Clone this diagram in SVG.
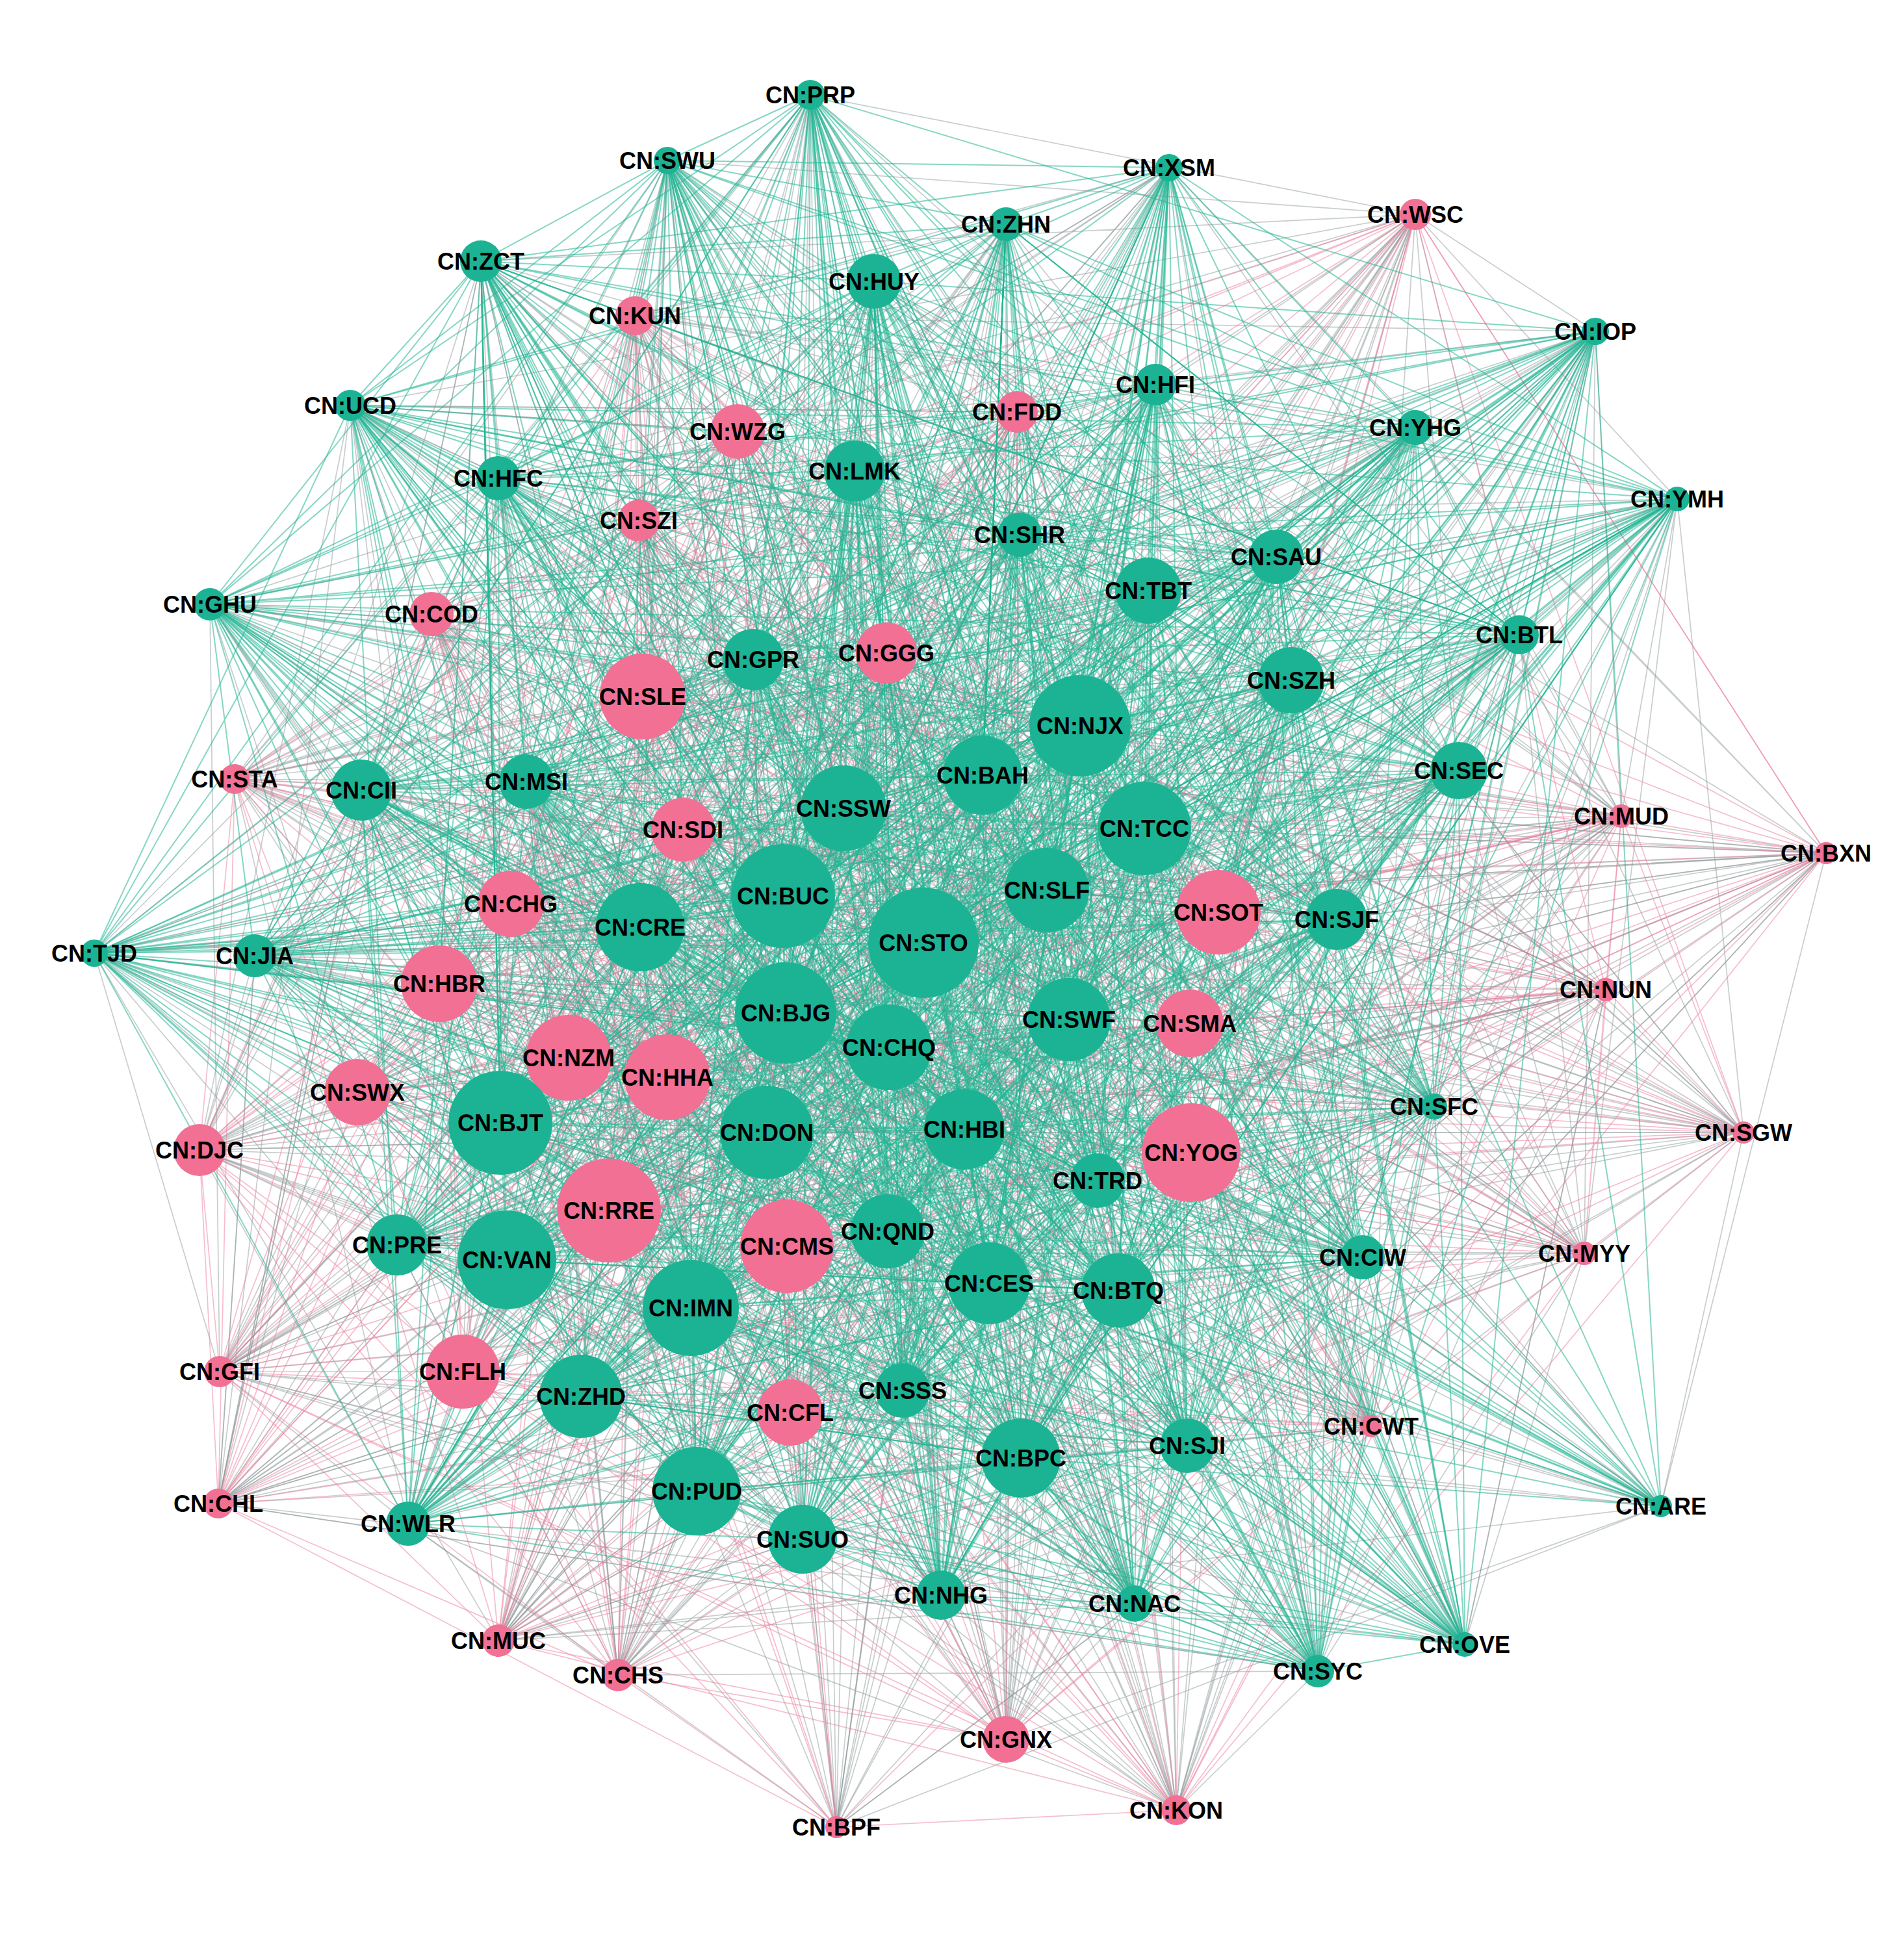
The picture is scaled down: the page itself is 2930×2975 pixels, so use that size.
<svg xmlns="http://www.w3.org/2000/svg" width="2930" height="2975" viewBox="0 0 2930 2975">
<style>
.t{stroke:#22b494;stroke-opacity:.55;stroke-width:2}
.g{stroke:#8c9699;stroke-opacity:.48;stroke-width:1.7}
.p{stroke:#ec7d9c;stroke-opacity:.5;stroke-width:1.7}
.ng{fill:#1bb394}
.np{fill:#f17094}
text{font-family:"Liberation Sans",Arial,sans-serif;font-weight:bold;font-size:36px;fill:#000;text-anchor:middle}
</style>
<rect width="2930" height="2975" fill="#fff"/>
<g id="edges" fill="none" stroke-linejoin="round" stroke-linecap="round">
<g id="edges-mixed">
<path class="g" d="M2556 2318 1287 2812 1512 1193 2810 1313 1209 1559 1216 2174 770 1728 786 1391 1571 2244 336 2314 2338 977 951 2578 1721 1986 1211 1918 1205 1379 664 945 1522 1975 2110 2195 1368 1612 307 1770 556 1216 1565 634 2097 1935 712 2111 985 1427 338 2111 1180 1743 1364 1005 323 930 1548 2677 1159 1015 676 1514 1484 1738 1027 1658 767 736 1810 2786 1778 592 977 486 1345 433 767 2525 1063 2013 2495 1256 2455 510 2438 1929 392 1471 2471 1523 1315 725 875 1628 810 1203 937 1863 1746 2468 1051 1277 1448 2455 2683 1743 1662 1117 989 1072 2254 2531 1831 1575 611 1916 1875 1404 1247 146 361 1199 1072 2295 550 1681 1366 1895 983 801 1964 857 2178 330 2245 1186 1135 664 2207 1703 1833 1774"/>
<path class="g" d="M1721 1986 1287 2812 1205 1379 2810 1313 1522 1975 1216 2174 1368 1612 786 1391 556 1216 336 2314 2097 1935 951 2578 985 1427 1211 1918 1180 1743 664 945 323 930 2110 2195 1159 1015 307 1770 1484 1738 1565 634 767 736 712 2111 1778 592 338 2111 1345 433 1364 1005 1063 2013 1548 2677 2455 510 676 1514 392 1471 1027 1658 1315 725 1810 2786 810 1203 977 486 1746 2468 767 2525 1448 2455 2495 1256 1662 1117 2438 1929 2254 2531 2471 1523 611 1916 875 1628 1247 146 937 1863 1072 2295 1051 1277 1366 1895 2683 1743 1964 857 989 1072 2245 1186 1831 1575 2207 1703 1875 1404 1569 823 361 1199 2057 1415 550 1681 1827 2225 983 801 1611 1370 2178 330 1389 2140 1135 664 1298 1244 1833 1774"/>
<path class="g" d="M985 1427 1287 2812 1180 1743 2810 1313 323 930 1216 2174 1159 1015 786 1391 1484 1738 336 2314 767 736 951 2578 1778 592 1211 1918 1345 433 664 945 1063 2013 2110 2195 2455 510 307 1770 392 1471 1565 634 1315 725 712 2111 810 1203 338 2111 1746 2468 1364 1005 1448 2455 1548 2677 1662 1117 676 1514 2254 2531 1027 1658 611 1916 1810 2786 1247 146 977 486 1072 2295 767 2525 1366 1895 2495 1256 1964 857 2438 1929 2245 1186 2471 1523 2207 1703 875 1628 1569 823 937 1863 2057 1415 1051 1277 1827 2225 2683 1743 1611 1370 989 1072 1389 2140 1831 1575 1298 1244 1875 1404 1421 1451 361 1199 1235 2369 550 1681 1645 1569 983 801 1027 247 2178 330 2028 2572 1135 664 1987 1047 1833 1774"/>
<path class="g" d="M1778 592 1287 2812 1345 433 2810 1313 1063 2013 1216 2174 2455 510 786 1391 392 1471 336 2314 1315 725 951 2578 810 1203 1211 1918 1746 2468 664 945 1448 2455 2110 2195 1662 1117 307 1770 2254 2531 1565 634 611 1916 712 2111 1247 146 338 2111 1072 2295 1364 1005 1366 1895 1548 2677 1964 857 676 1514 2245 1186 1027 1658 2207 1703 1810 2786 1569 823 977 486 2057 1415 767 2525 1827 2225 2495 1256 1611 1370 2438 1929 1389 2140 2471 1523 1298 1244 875 1628 1421 1451 937 1863 1235 2369 1051 1277 1645 1569 2683 1743 1027 247 989 1072 2028 2572 1831 1575 1987 1047 1875 1404 1767 909 361 1199 1761 1275 550 1681 145 1467 983 801 1689 1817 2178 330 539 624 1135 664 780 1939 1833 1774"/>
<path class="g" d="M810 1203 1287 2812 1746 2468 2810 1313 1448 2455 1216 2174 1662 1117 786 1391 2254 2531 336 2314 611 1916 951 2578 1247 146 1211 1918 1072 2295 664 945 1366 1895 2110 2195 1964 857 307 1770 2245 1186 1565 634 2207 1703 712 2111 1569 823 338 2111 2057 1415 1364 1005 1827 2225 1548 2677 1611 1370 676 1514 1389 2140 1027 1658 1298 1244 1810 2786 1421 1451 977 486 1235 2369 767 2525 1645 1569 2495 1256 1027 247 2438 1929 2028 2572 2471 1523 1987 1047 875 1628 1767 909 937 1863 1761 1275 1051 1277 145 1467 2683 1743 1689 1817 989 1072 539 624 1831 1575 780 1939 1875 1404 628 2345 361 1199 1799 258 550 1681 2178 658 983 801 2581 768 2178 330 740 402 1135 664 894 2149 1833 1774"/>
<path class="g" d="M1247 146 1287 2812 1072 2295 2810 1313 1366 1895 1216 2174 1964 857 786 1391 2245 1186 336 2314 2207 1703 951 2578 1569 823 1211 1918 2057 1415 664 945 1827 2225 2110 2195 1611 1370 307 1770 1389 2140 1565 634 1298 1244 712 2111 1421 1451 338 2111 1235 2369 1364 1005 1645 1569 1548 2677 1027 247 676 1514 2028 2572 1027 1658 1987 1047 1810 2786 1767 909 977 486 1761 1275 767 2525 145 1467 2495 1256 1689 1817 2438 1929 539 624 2471 1523 780 1939 875 1628 628 2345 937 1863 1799 258 1051 1277 2178 658 2683 1743 2581 768 989 1072 740 402 1831 1575 894 2149 1875 1404 1548 345 361 1199 2556 2318 550 1681 1512 1193 983 801 1209 1559 2178 330 770 1728 1135 664 1571 2244 1833 1774"/>
<path class="g" d="M1569 823 1287 2812 2057 1415 2810 1313 1827 2225 1216 2174 1611 1370 786 1391 1389 2140 336 2314 1298 1244 951 2578 1421 1451 1211 1918 1235 2369 664 945 1645 1569 2110 2195 1027 247 307 1770 2028 2572 1565 634 1987 1047 712 2111 1767 909 338 2111 1761 1275 1364 1005 145 1467 1548 2677 1689 1817 676 1514 539 624 1027 1658 780 1939 1810 2786 628 2345 977 486 1799 258 767 2525 2178 658 2495 1256 2581 768 2438 1929 740 402 2471 1523 894 2149 875 1628 1548 345 937 1863 2556 2318 1051 1277 1512 1193 2683 1743 1209 1559 989 1072 770 1728 1831 1575 1571 2244 1875 1404 2338 977 361 1199 1721 1986 550 1681 1205 1379 983 801 1522 1975 2178 330 1368 1612 1135 664 556 1216 1833 1774"/>
<path class="g" d="M1421 1451 1287 2812 1235 2369 2810 1313 1645 1569 1216 2174 1027 247 786 1391 2028 2572 336 2314 1987 1047 951 2578 1767 909 1211 1918 1761 1275 664 945 145 1467 2110 2195 1689 1817 307 1770 539 624 1565 634 780 1939 712 2111 628 2345 338 2111 1799 258 1364 1005 2178 658 1548 2677 2581 768 676 1514 740 402 1027 1658 894 2149 1810 2786 1548 345 977 486 2556 2318 767 2525 1512 1193 2495 1256 1209 1559 2438 1929 770 1728 2471 1523 1571 2244 875 1628 2338 977 937 1863 1721 1986 1051 1277 1205 1379 2683 1743 1522 1975 989 1072 1368 1612 1831 1575 556 1216 1875 1404 2097 1935 361 1199 985 1427 550 1681 1180 1743 983 801 323 930 2178 330 1159 1015 1135 664 1484 1738 1833 1774"/>
<path class="g" d="M1767 909 1287 2812 1761 1275 2810 1313 145 1467 1216 2174 1689 1817 786 1391 539 624 336 2314 780 1939 951 2578 628 2345 1211 1918 1799 258 664 945 2178 658 2110 2195 2581 768 307 1770 740 402 1565 634 894 2149 712 2111 1548 345 338 2111 2556 2318 1364 1005 1512 1193 1548 2677 1209 1559 676 1514 770 1728 1027 1658 1571 2244 1810 2786 2338 977 977 486 1721 1986 767 2525 1205 1379 2495 1256 1522 1975 2438 1929 1368 1612 2471 1523 556 1216 875 1628 2097 1935 937 1863 985 1427 1051 1277 1180 1743 2683 1743 323 930 989 1072 1159 1015 1831 1575 1484 1738 1875 1404 767 736 361 1199 1778 592 550 1681 1345 433 983 801 1063 2013 2178 330 2455 510 1135 664 392 1471 1833 1774"/>
<path class="g" d="M628 2345 1287 2812 1799 258 2810 1313 2178 658 1216 2174 2581 768 786 1391 740 402 336 2314 894 2149 951 2578 1548 345 1211 1918 2556 2318 664 945 1512 1193 2110 2195 1209 1559 307 1770 770 1728 1565 634 1571 2244 712 2111 2338 977 338 2111 1721 1986 1364 1005 1205 1379 1548 2677 1522 1975 676 1514 1368 1612 1027 1658 556 1216 1810 2786 2097 1935 977 486 985 1427 767 2525 1180 1743 2495 1256 323 930 2438 1929 1159 1015 2471 1523 1484 1738 875 1628 767 736 937 1863 1778 592 1051 1277 1345 433 2683 1743 1063 2013 989 1072 2455 510 1831 1575 392 1471 1875 1404 1315 725 361 1199 810 1203 550 1681 1746 2468 983 801 1448 2455 2178 330 1662 1117 1135 664 2254 2531 1833 1774"/>
<path class="g" d="M770 1728 1833 1774 1571 2244 1135 664 2338 977 2178 330 1721 1986 983 801 1205 1379 550 1681 1522 1975 361 1199 1368 1612 1875 1404 556 1216 1831 1575 2097 1935 989 1072 985 1427 2683 1743 1180 1743 1051 1277 323 930 937 1863 1159 1015 875 1628 1484 1738 2471 1523 767 736 2438 1929 1778 592 2495 1256 1345 433 767 2525 1063 2013 977 486 2455 510 1810 2786 392 1471 1027 1658 1315 725 676 1514 810 1203 1548 2677 1746 2468 1364 1005 1448 2455 338 2111 1662 1117 712 2111 2254 2531 1565 634 611 1916 307 1770 1247 146 2110 2195 1072 2295 664 945 1366 1895 1211 1918 1964 857 951 2578 2245 1186 336 2314 2207 1703 786 1391 1569 823 1216 2174 2057 1415 2810 1313 1827 2225 1287 2812"/>
<path class="g" d="M1159 1015 1833 1774 1484 1738 1135 664 767 736 2178 330 1778 592 983 801 1345 433 550 1681 1063 2013 361 1199 2455 510 1875 1404 392 1471 1831 1575 1315 725 989 1072 810 1203 2683 1743 1746 2468 1051 1277 1448 2455 937 1863 1662 1117 875 1628 2254 2531 2471 1523 611 1916 2438 1929 1247 146 2495 1256 1072 2295 767 2525 1366 1895 977 486 1964 857 1810 2786 2245 1186 1027 1658 2207 1703 676 1514 1569 823 1548 2677 2057 1415 1364 1005 1827 2225 338 2111 1611 1370 712 2111 1389 2140 1565 634 1298 1244 307 1770 1421 1451 2110 2195 1235 2369 664 945 1645 1569 1211 1918 1027 247 951 2578 2028 2572 336 2314 1987 1047 786 1391 1767 909 1216 2174 1761 1275 2810 1313 145 1467 1287 2812"/>
<path class="g" d="M1662 1117 1833 1774 2254 2531 1135 664 611 1916 2178 330 1247 146 983 801 1072 2295 550 1681 1366 1895 361 1199 1964 857 1875 1404 2245 1186 1831 1575 2207 1703 989 1072 1569 823 2683 1743 2057 1415 1051 1277 1827 2225 937 1863 1611 1370 875 1628 1389 2140 2471 1523 1298 1244 2438 1929 1421 1451 2495 1256 1235 2369 767 2525 1645 1569 977 486 1027 247 1810 2786 2028 2572 1027 1658 1987 1047 676 1514 1767 909 1548 2677 1761 1275 1364 1005 145 1467 338 2111 1689 1817 712 2111 539 624 1565 634 780 1939 307 1770 628 2345 2110 2195 1799 258 664 945 2178 658 1211 1918 2581 768 951 2578 740 402 336 2314 894 2149 786 1391 1548 345 1216 2174 2556 2318 2810 1313 1512 1193 1287 2812"/>
<path class="g" d="M1611 1370 1833 1774 1389 2140 1135 664 1298 1244 2178 330 1421 1451 983 801 1235 2369 550 1681 1645 1569 361 1199 1027 247 1875 1404 2028 2572 1831 1575 1987 1047 989 1072 1767 909 2683 1743 1761 1275 1051 1277 145 1467 937 1863 1689 1817 875 1628 539 624 2471 1523 780 1939 2438 1929 628 2345 2495 1256 1799 258 767 2525 2178 658 977 486 2581 768 1810 2786 740 402 1027 1658 894 2149 676 1514 1548 345 1548 2677 2556 2318 1364 1005 1512 1193 338 2111 1209 1559 712 2111 770 1728 1565 634 1571 2244 307 1770 2338 977 2110 2195 1721 1986 664 945 1205 1379 1211 1918 1522 1975 951 2578 1368 1612 336 2314 556 1216 786 1391 2097 1935 1216 2174 985 1427 2810 1313 1180 1743 1287 2812"/>
<path class="g" d="M1689 1817 1833 1774 539 624 1135 664 780 1939 2178 330 628 2345 983 801 1799 258 550 1681 2178 658 361 1199 2581 768 1875 1404 740 402 1831 1575 894 2149 989 1072 1548 345 2683 1743 2556 2318 1051 1277 1512 1193 937 1863 1209 1559 875 1628 770 1728 2471 1523 1571 2244 2438 1929 2338 977 2495 1256 1721 1986 767 2525 1205 1379 977 486 1522 1975 1810 2786 1368 1612 1027 1658 556 1216 676 1514 2097 1935 1548 2677 985 1427 1364 1005 1180 1743 338 2111 323 930 712 2111 1159 1015 1565 634 1484 1738 307 1770 767 736 2110 2195 1778 592 664 945 1345 433 1211 1918 1063 2013 951 2578 2455 510 336 2314 392 1471 786 1391 1315 725 1216 2174 810 1203 2810 1313 1746 2468 1287 2812"/>
</g>
<g id="edges-pink">
<path class="p" d="M1287 2812 2810 1313 1216 2174 786 1391 336 2314 951 2578 1211 1918 664 945 2110 2195 307 1770 1565 634 712 2111 338 2111 1364 1005 1548 2677 676 1514 1027 1658 1810 2786 977 486 767 2525 2495 1256 2438 1929 2471 1523 875 1628 937 1863 1051 1277 2683 1743 989 1072 1831 1575 1875 1404 361 1199 550 1681 983 801 2178 330 1135 664 1833 1774"/>
<path class="p" d="M1287 2812 1216 2174 336 2314 1211 1918 2110 2195 1565 634 338 2111 1548 2677 1027 1658 977 486 2495 1256 2471 1523 937 1863 2683 1743 1831 1575 361 1199 983 801 1135 664 2810 1313 786 1391 951 2578 664 945 307 1770 712 2111 1364 1005 676 1514 1810 2786 767 2525 2438 1929 875 1628 1051 1277 989 1072 1875 1404 550 1681 2178 330 1833 1774"/>
<path class="p" d="M1287 2812 786 1391 1211 1918 307 1770 338 2111 676 1514 977 486 2438 1929 937 1863 989 1072 361 1199 2178 330 2810 1313 336 2314 664 945 1565 634 1364 1005 1027 1658 767 2525 2471 1523 1051 1277 1831 1575 550 1681 1135 664 1216 2174 951 2578 2110 2195 712 2111 1548 2677 1810 2786 2495 1256 875 1628 2683 1743 1875 1404 983 801 1833 1774"/>
<path class="p" d="M1287 2812 336 2314 2110 2195 338 2111 1027 1658 2495 1256 937 1863 1831 1575 983 801 2810 1313 951 2578 307 1770 1364 1005 1810 2786 2438 1929 1051 1277 1875 1404 2178 330 1216 2174 1211 1918 1565 634 1548 2677 977 486 2471 1523 2683 1743 361 1199 1135 664 786 1391 664 945 712 2111 676 1514 767 2525 875 1628 989 1072 550 1681 1833 1774"/>
<path class="p" d="M1287 2812 951 2578 1565 634 676 1514 2495 1256 1051 1277 361 1199 1833 1774 2810 1313 1211 1918 712 2111 1027 1658 2438 1929 2683 1743 550 1681 1216 2174 664 945 338 2111 1810 2786 2471 1523 989 1072 983 801 786 1391 2110 2195 1364 1005 977 486 875 1628 1831 1575 2178 330 336 2314 307 1770 1548 2677 767 2525 937 1863 1875 1404 1135 664"/>
<path class="p" d="M1287 2812 1211 1918 338 2111 977 486 937 1863 361 1199 2810 1313 664 945 1364 1005 767 2525 1051 1277 550 1681 1216 2174 2110 2195 1548 2677 2495 1256 2683 1743 983 801 786 1391 307 1770 676 1514 2438 1929 989 1072 2178 330 336 2314 1565 634 1027 1658 2471 1523 1831 1575 1135 664 951 2578 712 2111 1810 2786 875 1628 1875 1404 1833 1774"/>
<path class="p" d="M1287 2812 664 945 1548 2677 2438 1929 1831 1575 1833 1774 2810 1313 2110 2195 676 1514 2471 1523 1875 1404 1216 2174 307 1770 1027 1658 875 1628 361 1199 786 1391 1565 634 1810 2786 937 1863 550 1681 336 2314 712 2111 977 486 1051 1277 983 801 951 2578 338 2111 767 2525 2683 1743 2178 330 1211 1918 1364 1005 2495 1256 989 1072 1135 664"/>
<path class="p" d="M1287 2812 307 1770 977 486 989 1072 2810 1313 1565 634 767 2525 1831 1575 1216 2174 712 2111 2495 1256 1875 1404 786 1391 338 2111 2438 1929 361 1199 336 2314 1364 1005 2471 1523 550 1681 951 2578 1548 2677 875 1628 983 801 1211 1918 676 1514 937 1863 2178 330 664 945 1027 1658 1051 1277 1135 664 2110 2195 1810 2786 2683 1743 1833 1774"/>
<path class="p" d="M1287 2812 712 2111 2471 1523 2178 330 2810 1313 338 2111 875 1628 1135 664 1216 2174 1364 1005 937 1863 1833 1774 786 1391 1548 2677 1051 1277 336 2314 676 1514 2683 1743 951 2578 1027 1658 989 1072 1211 1918 1810 2786 1831 1575 664 945 977 486 1875 1404 2110 2195 767 2525 361 1199 307 1770 2495 1256 550 1681 1565 634 2438 1929 983 801"/>
<path class="p" d="M1287 2812 1810 2786"/>
</g>
<g id="edges-green">
<path class="t" d="M2556 2318 1512 1193 1209 1559 770 1728 1571 2244 2338 977 1721 1986 1205 1379 1522 1975 1368 1612 556 1216 2097 1935 985 1427 1180 1743 323 930 1159 1015 1484 1738 767 736 1778 592 1345 433 1063 2013 2455 510 392 1471 1315 725 810 1203 1746 2468 1448 2455 1662 1117 2254 2531 611 1916 1247 146 1072 2295 1366 1895 1964 857 2245 1186 2207 1703 1569 823 2057 1415 1827 2225 1611 1370 1389 2140 1298 1244 1421 1451 1235 2369 1645 1569 1027 247 2028 2572 1987 1047 1767 909 1761 1275 145 1467 1689 1817 539 624 780 1939 628 2345 1799 258 2178 658 2581 768 740 402 894 2149 1548 345"/>
<path class="t" d="M2556 2318 1209 1559 1571 2244 1721 1986 1522 1975 556 1216 985 1427 323 930 1484 1738 1778 592 1063 2013 392 1471 810 1203 1448 2455 2254 2531 1247 146 1366 1895 2245 1186 1569 823 1827 2225 1389 2140 1421 1451 1645 1569 2028 2572 1767 909 145 1467 539 624 628 2345 2178 658 740 402 1548 345 1512 1193 770 1728 2338 977 1205 1379 1368 1612 2097 1935 1180 1743 1159 1015 767 736 1345 433 2455 510 1315 725 1746 2468 1662 1117 611 1916 1072 2295 1964 857 2207 1703 2057 1415 1611 1370 1298 1244 1235 2369 1027 247 1987 1047 1761 1275 1689 1817 780 1939 1799 258 2581 768 894 2149"/>
<path class="t" d="M2556 2318 770 1728 1721 1986 1368 1612 985 1427 1159 1015 1778 592 2455 510 810 1203 1662 1117 1247 146 1964 857 1569 823 1611 1370 1421 1451 1027 247 1767 909 1689 1817 628 2345 2581 768 1548 345 1512 1193 1571 2244 1205 1379 556 1216 1180 1743 1484 1738 1345 433 392 1471 1746 2468 2254 2531 1072 2295 2245 1186 2057 1415 1389 2140 1235 2369 2028 2572 1761 1275 539 624 1799 258 740 402 1209 1559 2338 977 1522 1975 2097 1935 323 930 767 736 1063 2013 1315 725 1448 2455 611 1916 1366 1895 2207 1703 1827 2225 1298 1244 1645 1569 1987 1047 145 1467 780 1939 2178 658 894 2149"/>
<path class="t" d="M2556 2318 1571 2244 1522 1975 985 1427 1484 1738 1063 2013 810 1203 2254 2531 1366 1895 1569 823 1389 2140 1645 1569 1767 909 539 624 2178 658 1548 345 1512 1193 2338 977 1368 1612 1180 1743 767 736 2455 510 1746 2468 611 1916 1964 857 2057 1415 1298 1244 1027 247 1761 1275 780 1939 2581 768 1209 1559 1721 1986 556 1216 323 930 1778 592 392 1471 1448 2455 1247 146 2245 1186 1827 2225 1421 1451 2028 2572 145 1467 628 2345 740 402 770 1728 1205 1379 2097 1935 1159 1015 1345 433 1315 725 1662 1117 1072 2295 2207 1703 1611 1370 1235 2369 1987 1047 1689 1817 1799 258 894 2149"/>
<path class="t" d="M2556 2318 2338 977 556 1216 1159 1015 1063 2013 1746 2468 1247 146 2207 1703 1389 2140 1027 247 145 1467 1799 258 1548 345 1512 1193 1721 1986 2097 1935 1484 1738 2455 510 1448 2455 1072 2295 1569 823 1298 1244 2028 2572 1689 1817 2178 658 1209 1559 1205 1379 985 1427 767 736 392 1471 1662 1117 1366 1895 2057 1415 1421 1451 1987 1047 539 624 2581 768 770 1728 1522 1975 1180 1743 1778 592 1315 725 2254 2531 1964 857 1827 2225 1235 2369 1767 909 780 1939 740 402 1571 2244 1368 1612 323 930 1345 433 810 1203 611 1916 2245 1186 1611 1370 1645 1569 1761 1275 628 2345 894 2149"/>
<path class="t" d="M2556 2318 1721 1986 985 1427 1778 592 810 1203 1247 146 1569 823 1421 1451 1767 909 628 2345 1548 345 1512 1193 1205 1379 1180 1743 1345 433 1746 2468 1072 2295 2057 1415 1235 2369 1761 1275 1799 258 1209 1559 1522 1975 323 930 1063 2013 1448 2455 1366 1895 1827 2225 1645 1569 145 1467 2178 658 770 1728 1368 1612 1159 1015 2455 510 1662 1117 1964 857 1611 1370 1027 247 1689 1817 2581 768 1571 2244 556 1216 1484 1738 392 1471 2254 2531 2245 1186 1389 2140 2028 2572 539 624 740 402 2338 977 2097 1935 767 736 1315 725 611 1916 2207 1703 1298 1244 1987 1047 780 1939 894 2149"/>
<path class="t" d="M2556 2318 1205 1379 323 930 2455 510 2254 2531 2207 1703 1421 1451 1761 1275 2178 658 1512 1193 1522 1975 1159 1015 392 1471 611 1916 1569 823 1235 2369 145 1467 2581 768 1209 1559 1368 1612 1484 1738 1315 725 1247 146 2057 1415 1645 1569 1689 1817 740 402 770 1728 556 1216 767 736 810 1203 1072 2295 1827 2225 1027 247 539 624 894 2149 1571 2244 2097 1935 1778 592 1746 2468 1366 1895 1611 1370 2028 2572 780 1939 1548 345 2338 977 985 1427 1345 433 1448 2455 1964 857 1389 2140 1987 1047 628 2345 1721 1986 1180 1743 1063 2013 1662 1117 2245 1186 1298 1244 1767 909 1799 258"/>
<path class="t" d="M2556 2318 1522 1975 1484 1738 810 1203 1366 1895 1389 2140 1767 909 2178 658 1512 1193 1368 1612 767 736 1746 2468 1964 857 1298 1244 1761 1275 2581 768 1209 1559 556 1216 1778 592 1448 2455 2245 1186 1421 1451 145 1467 740 402 770 1728 2097 1935 1345 433 1662 1117 2207 1703 1235 2369 1689 1817 894 2149 1571 2244 985 1427 1063 2013 2254 2531 1569 823 1645 1569 539 624 1548 345 2338 977 1180 1743 2455 510 611 1916 2057 1415 1027 247 780 1939 1721 1986 323 930 392 1471 1247 146 1827 2225 2028 2572 628 2345 1205 1379 1159 1015 1315 725 1072 2295 1611 1370 1987 1047 1799 258"/>
<path class="t" d="M2556 2318 1368 1612 1778 592 1662 1117 1569 823 1027 247 628 2345 1512 1193 556 1216 1345 433 2254 2531 2057 1415 2028 2572 1799 258 1209 1559 2097 1935 1063 2013 611 1916 1827 2225 1987 1047 2178 658 770 1728 985 1427 2455 510 1247 146 1611 1370 1767 909 2581 768 1571 2244 1180 1743 392 1471 1072 2295 1389 2140 1761 1275 740 402 2338 977 323 930 1315 725 1366 1895 1298 1244 145 1467 894 2149 1721 1986 1159 1015 810 1203 1964 857 1421 1451 1689 1817 1548 345 1205 1379 1484 1738 1746 2468 2245 1186 1235 2369 539 624 1522 1975 767 736 1448 2455 2207 1703 1645 1569 780 1939"/>
<path class="t" d="M2556 2318 556 1216 1063 2013 1247 146 1389 2140 145 1467 1548 345 1512 1193 2097 1935 2455 510 1072 2295 1298 1244 1689 1817 1209 1559 985 1427 392 1471 1366 1895 1421 1451 539 624 770 1728 1180 1743 1315 725 1964 857 1235 2369 780 1939 1571 2244 323 930 810 1203 2245 1186 1645 1569 628 2345 2338 977 1159 1015 1746 2468 2207 1703 1027 247 1799 258 1721 1986 1484 1738 1448 2455 1569 823 2028 2572 2178 658 1205 1379 767 736 1662 1117 2057 1415 1987 1047 2581 768 1522 1975 1778 592 2254 2531 1827 2225 1767 909 740 402 1368 1612 1345 433 611 1916 1611 1370 1761 1275 894 2149"/>
<path class="t" d="M2556 2318 2097 1935 392 1471 1964 857 1645 1569 1799 258 1512 1193 985 1427 1315 725 2245 1186 1027 247 2178 658 1209 1559 1180 1743 810 1203 2207 1703 2028 2572 2581 768 770 1728 323 930 1746 2468 1569 823 1987 1047 740 402 1571 2244 1159 1015 1448 2455 2057 1415 1767 909 894 2149 2338 977 1484 1738 1662 1117 1827 2225 1761 1275 1548 345 1721 1986 767 736 2254 2531 1611 1370 145 1467 1205 1379 1778 592 611 1916 1389 2140 1689 1817 1522 1975 1345 433 1247 146 1298 1244 539 624 1368 1612 1063 2013 1072 2295 1421 1451 780 1939 556 1216 2455 510 1366 1895 1235 2369 628 2345"/>
<path class="t" d="M2556 2318 985 1427 810 1203 1569 823 1767 909 1548 345 1512 1193 1180 1743 1746 2468 2057 1415 1761 1275 1209 1559 323 930 1448 2455 1827 2225 145 1467 770 1728 1159 1015 1662 1117 1611 1370 1689 1817 1571 2244 1484 1738 2254 2531 1389 2140 539 624 2338 977 767 736 611 1916 1298 1244 780 1939 1721 1986 1778 592 1247 146 1421 1451 628 2345 1205 1379 1345 433 1072 2295 1235 2369 1799 258 1522 1975 1063 2013 1366 1895 1645 1569 2178 658 1368 1612 2455 510 1964 857 1027 247 2581 768 556 1216 392 1471 2245 1186 2028 2572 740 402 2097 1935 1315 725 2207 1703 1987 1047 894 2149"/>
<path class="t" d="M2556 2318 1180 1743 1448 2455 1611 1370 539 624 1512 1193 323 930 1662 1117 1389 2140 780 1939 1209 1559 1159 1015 2254 2531 1298 1244 628 2345 770 1728 1484 1738 611 1916 1421 1451 1799 258 1571 2244 767 736 1247 146 1235 2369 2178 658 2338 977 1778 592 1072 2295 1645 1569 2581 768 1721 1986 1345 433 1366 1895 1027 247 740 402 1205 1379 1063 2013 1964 857 2028 2572 894 2149 1522 1975 2455 510 2245 1186 1987 1047 1548 345 1368 1612 392 1471 2207 1703 1767 909 556 1216 1315 725 1569 823 1761 1275 2097 1935 810 1203 2057 1415 145 1467 985 1427 1746 2468 1827 2225 1689 1817"/>
<path class="t" d="M2556 2318 323 930 2254 2531 1421 1451 2178 658 1512 1193 1159 1015 611 1916 1235 2369 2581 768 1209 1559 1484 1738 1247 146 1645 1569 740 402 770 1728 767 736 1072 2295 1027 247 894 2149 1571 2244 1778 592 1366 1895 2028 2572 1548 345 2338 977 1345 433 1964 857 1987 1047 1721 1986 1063 2013 2245 1186 1767 909 1205 1379 2455 510 2207 1703 1761 1275 1522 1975 392 1471 1569 823 145 1467 1368 1612 1315 725 2057 1415 1689 1817 556 1216 810 1203 1827 2225 539 624 2097 1935 1746 2468 1611 1370 780 1939 985 1427 1448 2455 1389 2140 628 2345 1180 1743 1662 1117 1298 1244 1799 258"/>
<path class="t" d="M2556 2318 1159 1015 1247 146 1027 247 1548 345 1512 1193 1484 1738 1072 2295 2028 2572 1209 1559 767 736 1366 1895 1987 1047 770 1728 1778 592 1964 857 1767 909 1571 2244 1345 433 2245 1186 1761 1275 2338 977 1063 2013 2207 1703 145 1467 1721 1986 2455 510 1569 823 1689 1817 1205 1379 392 1471 2057 1415 539 624 1522 1975 1315 725 1827 2225 780 1939 1368 1612 810 1203 1611 1370 628 2345 556 1216 1746 2468 1389 2140 1799 258 2097 1935 1448 2455 1298 1244 2178 658 985 1427 1662 1117 1421 1451 2581 768 1180 1743 2254 2531 1235 2369 740 402 323 930 611 1916 1645 1569 894 2149"/>
<path class="t" d="M2556 2318 1484 1738 1366 1895 1767 909 1512 1193 767 736 1964 857 1761 1275 1209 1559 1778 592 2245 1186 145 1467 770 1728 1345 433 2207 1703 1689 1817 1571 2244 1063 2013 1569 823 539 624 2338 977 2455 510 2057 1415 780 1939 1721 1986 392 1471 1827 2225 628 2345 1205 1379 1315 725 1611 1370 1799 258 1522 1975 810 1203 1389 2140 2178 658 1368 1612 1746 2468 1298 1244 2581 768 556 1216 1448 2455 1421 1451 740 402 2097 1935 1662 1117 1235 2369 894 2149 985 1427 2254 2531 1645 1569 1548 345 1180 1743 611 1916 1027 247 323 930 1247 146 2028 2572 1159 1015 1072 2295 1987 1047"/>
<path class="t" d="M2556 2318 767 736 2245 1186 1689 1817 1512 1193 1778 592 2207 1703 539 624 1209 1559 1345 433 1569 823 780 1939 770 1728 1063 2013 2057 1415 628 2345 1571 2244 2455 510 1827 2225 1799 258 2338 977 392 1471 1611 1370 2178 658 1721 1986 1315 725 1389 2140 2581 768 1205 1379 810 1203 1298 1244 740 402 1522 1975 1746 2468 1421 1451 894 2149 1368 1612 1448 2455 1235 2369 1548 345 556 1216 1662 1117 1645 1569 2097 1935 2254 2531 1027 247 985 1427 611 1916 2028 2572 1180 1743 1247 146 1987 1047 323 930 1072 2295 1767 909 1159 1015 1366 1895 1761 1275 1484 1738 1964 857 145 1467"/>
<path class="t" d="M2556 2318 1778 592 1569 823 628 2345 1512 1193 1345 433 2057 1415 1799 258 1209 1559 1063 2013 1827 2225 2178 658 770 1728 2455 510 1611 1370 2581 768 1571 2244 392 1471 1389 2140 740 402 2338 977 1315 725 1298 1244 894 2149 1721 1986 810 1203 1421 1451 1548 345 1205 1379 1746 2468 1235 2369 1522 1975 1448 2455 1645 1569 1368 1612 1662 1117 1027 247 556 1216 2254 2531 2028 2572 2097 1935 611 1916 1987 1047 985 1427 1247 146 1767 909 1180 1743 1072 2295 1761 1275 323 930 1366 1895 145 1467 1159 1015 1964 857 1689 1817 1484 1738 2245 1186 539 624 767 736 2207 1703 780 1939"/>
<path class="t" d="M2556 2318 1345 433 1827 2225 2581 768 1512 1193 1063 2013 1611 1370 740 402 1209 1559 2455 510 1389 2140 894 2149 770 1728 392 1471 1298 1244 1548 345 1571 2244 1315 725 1421 1451 2338 977 810 1203 1235 2369 1721 1986 1746 2468 1645 1569 1205 1379 1448 2455 1027 247 1522 1975 1662 1117 2028 2572 1368 1612 2254 2531 1987 1047 556 1216 611 1916 1767 909 2097 1935 1247 146 1761 1275 985 1427 1072 2295 145 1467 1180 1743 1366 1895 1689 1817 323 930 1964 857 539 624 1159 1015 2245 1186 780 1939 1484 1738 2207 1703 628 2345 767 736 1569 823 1799 258 1778 592 2057 1415 2178 658"/>
<path class="t" d="M2556 2318 1063 2013 1389 2140 1548 345 1512 1193 2455 510 1298 1244 1209 1559 392 1471 1421 1451 770 1728 1315 725 1235 2369 1571 2244 810 1203 1645 1569 2338 977 1746 2468 1027 247 1721 1986 1448 2455 2028 2572 1205 1379 1662 1117 1987 1047 1522 1975 2254 2531 1767 909 1368 1612 611 1916 1761 1275 556 1216 1247 146 145 1467 2097 1935 1072 2295 1689 1817 985 1427 1366 1895 539 624 1180 1743 1964 857 780 1939 323 930 2245 1186 628 2345 1159 1015 2207 1703 1799 258 1484 1738 1569 823 2178 658 767 736 2057 1415 2581 768 1778 592 1827 2225 740 402 1345 433 1611 1370 894 2149"/>
<path class="t" d="M2556 2318 2455 510 1421 1451 1512 1193 392 1471 1235 2369 1209 1559 1315 725 1645 1569 770 1728 810 1203 1027 247 1571 2244 1746 2468 2028 2572 2338 977 1448 2455 1987 1047 1721 1986 1662 1117 1767 909 1205 1379 2254 2531 1761 1275 1522 1975 611 1916 145 1467 1368 1612 1247 146 1689 1817 556 1216 1072 2295 539 624 2097 1935 1366 1895 780 1939 985 1427 1964 857 628 2345 1180 1743 2245 1186 1799 258 323 930 2207 1703 2178 658 1159 1015 1569 823 2581 768 1484 1738 2057 1415 740 402 767 736 1827 2225 894 2149 1778 592 1611 1370 1548 345 1345 433 1389 2140 1063 2013 1298 1244"/>
<path class="t" d="M2556 2318 392 1471 1645 1569 1512 1193 1315 725 1027 247 1209 1559 810 1203 2028 2572 770 1728 1746 2468 1987 1047 1571 2244 1448 2455 1767 909 2338 977 1662 1117 1761 1275 1721 1986 2254 2531 145 1467 1205 1379 611 1916 1689 1817 1522 1975 1247 146 539 624 1368 1612 1072 2295 780 1939 556 1216 1366 1895 628 2345 2097 1935 1964 857 1799 258 985 1427 2245 1186 2178 658 1180 1743 2207 1703 2581 768 323 930 1569 823 740 402 1159 1015 2057 1415 894 2149 1484 1738 1827 2225 1548 345 767 736 1611 1370 1778 592 1389 2140 1345 433 1298 1244 1063 2013 1421 1451 2455 510 1235 2369"/>
</g>
</g>
<g id="nodes">
<g id="n-PRP"><circle class="ng" cx="1247" cy="146" r="23"/><text x="1247" y="159">CN:PRP</text></g>
<g id="n-SWU"><circle class="ng" cx="1027" cy="247" r="21"/><text x="1027" y="260">CN:SWU</text></g>
<g id="n-XSM"><circle class="ng" cx="1799" cy="258" r="21"/><text x="1799" y="271">CN:XSM</text></g>
<g id="n-WSC"><circle class="np" cx="2178" cy="330" r="24"/><text x="2178" y="343">CN:WSC</text></g>
<g id="n-ZHN"><circle class="ng" cx="1548" cy="345" r="26"/><text x="1548" y="358">CN:ZHN</text></g>
<g id="n-ZCT"><circle class="ng" cx="740" cy="402" r="32"/><text x="740" y="415">CN:ZCT</text></g>
<g id="n-HUY"><circle class="ng" cx="1345" cy="433" r="42"/><text x="1345" y="446">CN:HUY</text></g>
<g id="n-KUN"><circle class="np" cx="977" cy="486" r="30"/><text x="977" y="499">CN:KUN</text></g>
<g id="n-IOP"><circle class="ng" cx="2455" cy="510" r="21"/><text x="2455" y="523">CN:IOP</text></g>
<g id="n-UCD"><circle class="ng" cx="539" cy="624" r="24"/><text x="539" y="637">CN:UCD</text></g>
<g id="n-HFI"><circle class="ng" cx="1778" cy="592" r="32"/><text x="1778" y="605">CN:HFI</text></g>
<g id="n-FDD"><circle class="np" cx="1565" cy="634" r="32"/><text x="1565" y="647">CN:FDD</text></g>
<g id="n-WZG"><circle class="np" cx="1135" cy="664" r="42"/><text x="1135" y="677">CN:WZG</text></g>
<g id="n-YHG"><circle class="ng" cx="2178" cy="658" r="27"/><text x="2178" y="671">CN:YHG</text></g>
<g id="n-LMK"><circle class="ng" cx="1315" cy="725" r="47"/><text x="1315" y="738">CN:LMK</text></g>
<g id="n-HFC"><circle class="ng" cx="767" cy="736" r="34"/><text x="767" y="749">CN:HFC</text></g>
<g id="n-YMH"><circle class="ng" cx="2581" cy="768" r="19"/><text x="2581" y="781">CN:YMH</text></g>
<g id="n-SZI"><circle class="np" cx="983" cy="801" r="32"/><text x="983" y="814">CN:SZI</text></g>
<g id="n-SHR"><circle class="ng" cx="1569" cy="823" r="34"/><text x="1569" y="836">CN:SHR</text></g>
<g id="n-SAU"><circle class="ng" cx="1964" cy="857" r="42"/><text x="1964" y="870">CN:SAU</text></g>
<g id="n-TBT"><circle class="ng" cx="1767" cy="909" r="51"/><text x="1767" y="922">CN:TBT</text></g>
<g id="n-GHU"><circle class="ng" cx="323" cy="930" r="25"/><text x="323" y="943">CN:GHU</text></g>
<g id="n-COD"><circle class="np" cx="664" cy="945" r="34"/><text x="664" y="958">CN:COD</text></g>
<g id="n-BTL"><circle class="ng" cx="2338" cy="977" r="30"/><text x="2338" y="990">CN:BTL</text></g>
<g id="n-GPR"><circle class="ng" cx="1159" cy="1015" r="47"/><text x="1159" y="1028">CN:GPR</text></g>
<g id="n-GGG"><circle class="np" cx="1364" cy="1005" r="47"/><text x="1364" y="1018">CN:GGG</text></g>
<g id="n-SZH"><circle class="ng" cx="1987" cy="1047" r="51"/><text x="1987" y="1060">CN:SZH</text></g>
<g id="n-SLE"><circle class="np" cx="989" cy="1072" r="66"/><text x="989" y="1085">CN:SLE</text></g>
<g id="n-NJX"><circle class="ng" cx="1662" cy="1117" r="78"/><text x="1662" y="1130">CN:NJX</text></g>
<g id="n-STA"><circle class="np" cx="361" cy="1199" r="23"/><text x="361" y="1212">CN:STA</text></g>
<g id="n-CII"><circle class="ng" cx="556" cy="1216" r="47"/><text x="556" y="1229">CN:CII</text></g>
<g id="n-MSI"><circle class="ng" cx="810" cy="1203" r="42"/><text x="810" y="1216">CN:MSI</text></g>
<g id="n-BAH"><circle class="ng" cx="1512" cy="1193" r="61"/><text x="1512" y="1206">CN:BAH</text></g>
<g id="n-SEC"><circle class="ng" cx="2245" cy="1186" r="44"/><text x="2245" y="1199">CN:SEC</text></g>
<g id="n-SSW"><circle class="ng" cx="1298" cy="1244" r="66"/><text x="1298" y="1257">CN:SSW</text></g>
<g id="n-SDI"><circle class="np" cx="1051" cy="1277" r="49"/><text x="1051" y="1290">CN:SDI</text></g>
<g id="n-TCC"><circle class="ng" cx="1761" cy="1275" r="72"/><text x="1761" y="1288">CN:TCC</text></g>
<g id="n-MUD"><circle class="np" cx="2495" cy="1256" r="18"/><text x="2495" y="1269">CN:MUD</text></g>
<g id="n-BXN"><circle class="np" cx="2810" cy="1313" r="17"/><text x="2810" y="1326">CN:BXN</text></g>
<g id="n-BUC"><circle class="ng" cx="1205" cy="1379" r="80"/><text x="1205" y="1392">CN:BUC</text></g>
<g id="n-CHG"><circle class="np" cx="786" cy="1391" r="51"/><text x="786" y="1404">CN:CHG</text></g>
<g id="n-SLF"><circle class="ng" cx="1611" cy="1370" r="65"/><text x="1611" y="1383">CN:SLF</text></g>
<g id="n-SOT"><circle class="np" cx="1875" cy="1404" r="65"/><text x="1875" y="1417">CN:SOT</text></g>
<g id="n-CRE"><circle class="ng" cx="985" cy="1427" r="68"/><text x="985" y="1440">CN:CRE</text></g>
<g id="n-SJF"><circle class="ng" cx="2057" cy="1415" r="47"/><text x="2057" y="1428">CN:SJF</text></g>
<g id="n-TJD"><circle class="ng" cx="145" cy="1467" r="21"/><text x="145" y="1480">CN:TJD</text></g>
<g id="n-JIA"><circle class="ng" cx="392" cy="1471" r="33"/><text x="392" y="1484">CN:JIA</text></g>
<g id="n-STO"><circle class="ng" cx="1421" cy="1451" r="85"/><text x="1421" y="1464">CN:STO</text></g>
<g id="n-HBR"><circle class="np" cx="676" cy="1514" r="59"/><text x="676" y="1527">CN:HBR</text></g>
<g id="n-NUN"><circle class="np" cx="2471" cy="1523" r="18"/><text x="2471" y="1536">CN:NUN</text></g>
<g id="n-BJG"><circle class="ng" cx="1209" cy="1559" r="78"/><text x="1209" y="1572">CN:BJG</text></g>
<g id="n-SMA"><circle class="np" cx="1831" cy="1575" r="52"/><text x="1831" y="1588">CN:SMA</text></g>
<g id="n-SWF"><circle class="ng" cx="1645" cy="1569" r="64"/><text x="1645" y="1582">CN:SWF</text></g>
<g id="n-CHQ"><circle class="ng" cx="1368" cy="1612" r="66"/><text x="1368" y="1625">CN:CHQ</text></g>
<g id="n-NZM"><circle class="np" cx="875" cy="1628" r="66"/><text x="875" y="1641">CN:NZM</text></g>
<g id="n-HHA"><circle class="np" cx="1027" cy="1658" r="66"/><text x="1027" y="1671">CN:HHA</text></g>
<g id="n-SWX"><circle class="np" cx="550" cy="1681" r="51"/><text x="550" y="1694">CN:SWX</text></g>
<g id="n-BJT"><circle class="ng" cx="770" cy="1728" r="80"/><text x="770" y="1741">CN:BJT</text></g>
<g id="n-DON"><circle class="ng" cx="1180" cy="1743" r="72"/><text x="1180" y="1756">CN:DON</text></g>
<g id="n-HBI"><circle class="ng" cx="1484" cy="1738" r="62"/><text x="1484" y="1751">CN:HBI</text></g>
<g id="n-SFC"><circle class="ng" cx="2207" cy="1703" r="20"/><text x="2207" y="1716">CN:SFC</text></g>
<g id="n-SGW"><circle class="np" cx="2683" cy="1743" r="17"/><text x="2683" y="1756">CN:SGW</text></g>
<g id="n-DJC"><circle class="np" cx="307" cy="1770" r="40"/><text x="307" y="1783">CN:DJC</text></g>
<g id="n-YOG"><circle class="np" cx="1833" cy="1774" r="76"/><text x="1833" y="1787">CN:YOG</text></g>
<g id="n-TRD"><circle class="ng" cx="1689" cy="1817" r="42"/><text x="1689" y="1830">CN:TRD</text></g>
<g id="n-RRE"><circle class="np" cx="937" cy="1863" r="80"/><text x="937" y="1876">CN:RRE</text></g>
<g id="n-PRE"><circle class="ng" cx="611" cy="1916" r="47"/><text x="611" y="1929">CN:PRE</text></g>
<g id="n-VAN"><circle class="ng" cx="780" cy="1939" r="76"/><text x="780" y="1952">CN:VAN</text></g>
<g id="n-CMS"><circle class="np" cx="1211" cy="1918" r="72"/><text x="1211" y="1931">CN:CMS</text></g>
<g id="n-QND"><circle class="ng" cx="1366" cy="1895" r="57"/><text x="1366" y="1908">CN:QND</text></g>
<g id="n-CIW"><circle class="ng" cx="2097" cy="1935" r="34"/><text x="2097" y="1948">CN:CIW</text></g>
<g id="n-MYY"><circle class="np" cx="2438" cy="1929" r="18"/><text x="2438" y="1942">CN:MYY</text></g>
<g id="n-CES"><circle class="ng" cx="1522" cy="1975" r="63"/><text x="1522" y="1988">CN:CES</text></g>
<g id="n-BTQ"><circle class="ng" cx="1721" cy="1986" r="57"/><text x="1721" y="1999">CN:BTQ</text></g>
<g id="n-IMN"><circle class="ng" cx="1063" cy="2013" r="74"/><text x="1063" y="2026">CN:IMN</text></g>
<g id="n-GFI"><circle class="np" cx="338" cy="2111" r="24"/><text x="338" y="2124">CN:GFI</text></g>
<g id="n-FLH"><circle class="np" cx="712" cy="2111" r="57"/><text x="712" y="2124">CN:FLH</text></g>
<g id="n-ZHD"><circle class="ng" cx="894" cy="2149" r="64"/><text x="894" y="2162">CN:ZHD</text></g>
<g id="n-SSS"><circle class="ng" cx="1389" cy="2140" r="42"/><text x="1389" y="2153">CN:SSS</text></g>
<g id="n-CFL"><circle class="np" cx="1216" cy="2174" r="51"/><text x="1216" y="2187">CN:CFL</text></g>
<g id="n-CWT"><circle class="np" cx="2110" cy="2195" r="17"/><text x="2110" y="2208">CN:CWT</text></g>
<g id="n-SJI"><circle class="ng" cx="1827" cy="2225" r="42"/><text x="1827" y="2238">CN:SJI</text></g>
<g id="n-BPC"><circle class="ng" cx="1571" cy="2244" r="61"/><text x="1571" y="2257">CN:BPC</text></g>
<g id="n-ARE"><circle class="ng" cx="2556" cy="2318" r="17"/><text x="2556" y="2331">CN:ARE</text></g>
<g id="n-CHL"><circle class="np" cx="336" cy="2314" r="23"/><text x="336" y="2327">CN:CHL</text></g>
<g id="n-PUD"><circle class="ng" cx="1072" cy="2295" r="68"/><text x="1072" y="2308">CN:PUD</text></g>
<g id="n-WLR"><circle class="ng" cx="628" cy="2345" r="34"/><text x="628" y="2358">CN:WLR</text></g>
<g id="n-SUO"><circle class="ng" cx="1235" cy="2369" r="53"/><text x="1235" y="2382">CN:SUO</text></g>
<g id="n-NHG"><circle class="ng" cx="1448" cy="2455" r="38"/><text x="1448" y="2468">CN:NHG</text></g>
<g id="n-NAC"><circle class="ng" cx="1746" cy="2468" r="28"/><text x="1746" y="2481">CN:NAC</text></g>
<g id="n-OVE"><circle class="ng" cx="2254" cy="2531" r="19"/><text x="2254" y="2544">CN:OVE</text></g>
<g id="n-MUC"><circle class="np" cx="767" cy="2525" r="25"/><text x="767" y="2538">CN:MUC</text></g>
<g id="n-CHS"><circle class="np" cx="951" cy="2578" r="25"/><text x="951" y="2591">CN:CHS</text></g>
<g id="n-SYC"><circle class="ng" cx="2028" cy="2572" r="25"/><text x="2028" y="2585">CN:SYC</text></g>
<g id="n-GNX"><circle class="np" cx="1548" cy="2677" r="36"/><text x="1548" y="2690">CN:GNX</text></g>
<g id="n-KON"><circle class="np" cx="1810" cy="2786" r="23"/><text x="1810" y="2799">CN:KON</text></g>
<g id="n-BPF"><circle class="np" cx="1287" cy="2812" r="17"/><text x="1287" y="2825">CN:BPF</text></g>
</g>
</svg>
